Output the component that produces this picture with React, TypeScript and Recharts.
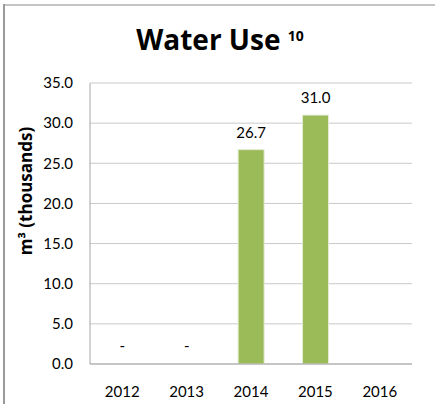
import { Bar, BarChart, CartesianGrid, Cell, LabelList, XAxis, YAxis } from "recharts";

const years = ["2012", "2013", "2014", "2015", "2016"];
const waterUse: (number | null)[] = [0, 0, 26.7, 31.0, null];
const yTicks = [0, 5, 10, 15, 20, 25, 30, 35];

const data = years.map((year, i) => ({ year, value: waterUse[i] }));

const FONT = "Lato, 'Liberation Sans', sans-serif";
const BOLD_FONT = "'Open Sans', 'Liberation Sans', sans-serif";

// zero shows as "-" like the excel number format, empty year shows nothing
const fmtLabel = (v: any) => {
    if (v === null || v === undefined) return "";
    return v === 0 ? "-" : Number(v).toFixed(1);
};

export default function App() {
    return (
        <div style={{ position: "absolute", left: 0, top: 0, width: 435, height: 404, background: "#fff", fontFamily: FONT, overflow: "hidden" }}>
            {/* sheet edges */}
            <div style={{ position: "absolute", left: 3, top: 4, width: 432, height: 2, background: "#c4c4c4" }} />
            <div style={{ position: "absolute", left: 3, top: 4, width: 2, height: 400, background: "#9a9a9a" }} />

            {/* title */}
            <div
                style={{
                    position: "absolute",
                    left: 0,
                    top: 19,
                    width: 435,
                    textAlign: "center",
                    fontWeight: 700,
                    fontSize: 28,
                    fontFamily: BOLD_FONT,
                    color: "#000",
                    lineHeight: "40px",
                    paddingLeft: 5,
                    boxSizing: "border-box",
                    whiteSpace: "nowrap",
                }}
            >
                Water Use <span style={{ fontSize: 14, position: "relative", top: -9 }}>10</span>
            </div>

            <BarChart
                width={435}
                height={404}
                data={data}
                margin={{ top: 83, right: 23, bottom: 10, left: 0 }}
                barCategoryGap="30%"
                style={{ position: "absolute", left: 0, top: 0 }}
            >
                <CartesianGrid vertical={false} stroke="#c9c9c9" />
                <XAxis
                    dataKey="year"
                    tickLine={false}
                    tickSize={0}
                    tickMargin={22}
                    axisLine={{ stroke: "#a6a6a6" }}
                    tick={{ fill: "#000", fontSize: 15, fontFamily: FONT }}
                />
                <YAxis
                    width={90}
                    domain={[0, 35]}
                    ticks={yTicks}
                    tickFormatter={(v: number) => v.toFixed(1)}
                    tickLine={false}
                    tickSize={0}
                    tickMargin={17}
                    axisLine={{ stroke: "#a6a6a6" }}
                    tick={{ fill: "#000", fontSize: 15, fontFamily: FONT }}
                />
                <Bar
                    dataKey="value"
                    fill="#9bbb59"
                    stroke="#e4ebd4"
                    strokeWidth={1}
                    minPointSize={(v: any) => (v === 0 ? 1 : 0)}
                    isAnimationActive={false}
                >
                    {data.map((d, i) => (
                        <Cell key={`c-${i}`} fill={d.value ? "#9bbb59" : "transparent"} stroke={d.value ? "#e4ebd4" : "none"} />
                    ))}
                    <LabelList
                        dataKey="value"
                        position="top"
                        offset={12}
                        formatter={fmtLabel}
                        style={{ fill: "#000", fontSize: 15, fontFamily: FONT }}
                    />
                </Bar>
            </BarChart>

            {/* y axis title */}
            <svg width={435} height={404} style={{ position: "absolute", left: 0, top: 0, pointerEvents: "none" }}>
                <text
                    x={32}
                    y={191}
                    transform="rotate(-90 32 191)"
                    textAnchor="middle"
                    fontFamily={BOLD_FONT}
                    fontWeight={700}
                    fontSize={17}
                    fill="#000"
                >
                    m³ (thousands)
                </text>
            </svg>
        </div>
    );
}
